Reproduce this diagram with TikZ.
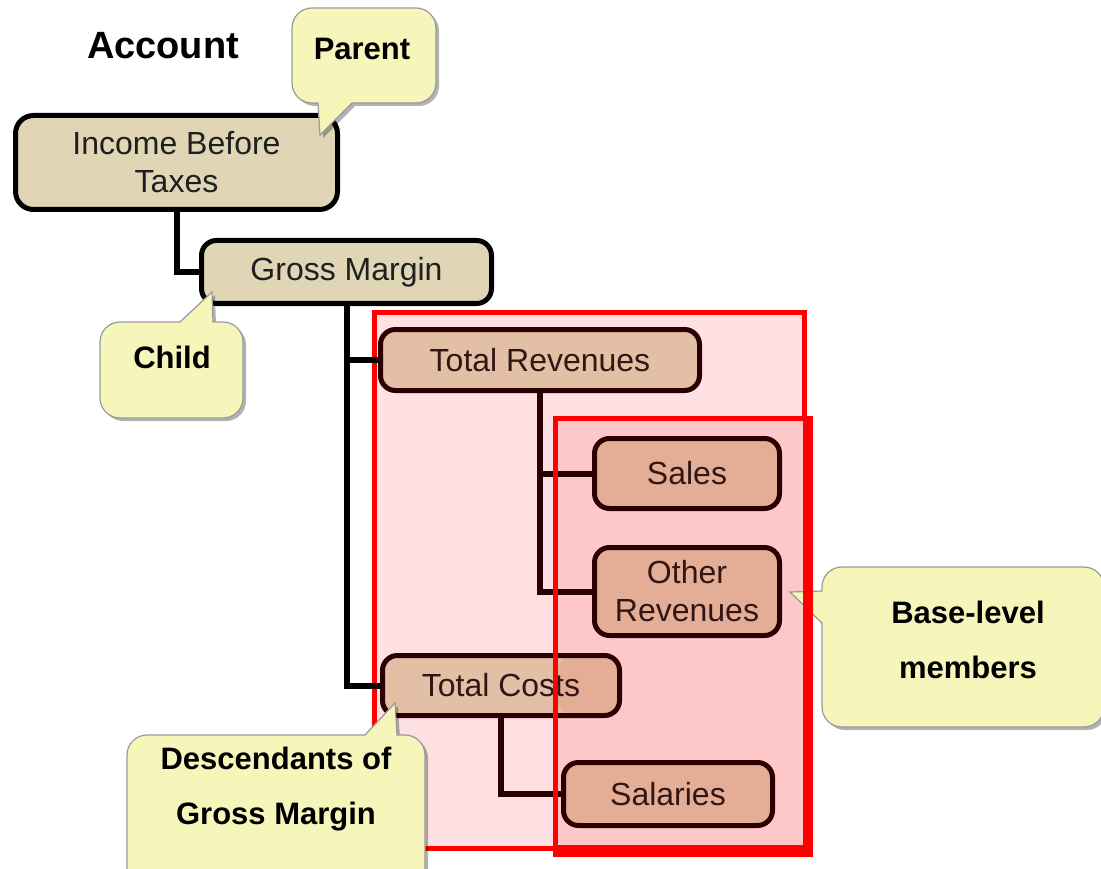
\documentclass[tikz,border=0pt]{standalone}
\usepackage{fontspec}
\setmainfont{Liberation Sans}
\usetikzlibrary{shadows,calc}
\definecolor{cTan}{RGB}{224,214,182}
\definecolor{cRev}{RGB}{227,192,165}
\definecolor{cBase}{RGB}{228,174,150}
\definecolor{cPinkA}{RGB}{255,225,228}
\definecolor{cPinkB}{RGB}{255,200,200}
\definecolor{cYel}{RGB}{247,246,186}
\definecolor{cBrown}{RGB}{43,0,0}
\definecolor{cBrownTxt}{RGB}{50,22,22}
\definecolor{cRed}{RGB}{255,0,0}
\pgfdeclarelayer{back}
\pgfdeclarelayer{bg}
\pgfdeclarelayer{front}
\pgfsetlayers{back,bg,main,front}
\tikzset{
  box/.style={draw, line width=5pt, rounded corners=15pt, inner sep=0pt, align=center,
    font=\fontsize{32}{38}\selectfont},
  tanbox/.style={box, fill=cTan, draw=black, text=black!88},
  revbox/.style={box, fill=cRev, draw=cBrown, text=cBrownTxt},
  basebox/.style={box, fill=cBase, draw=cBrown, text=cBrownTxt},
  conn/.style={line width=6pt, draw=black},
  brconn/.style={line width=6pt, draw=cBrown},
  callout/.style={fill=cYel, draw=black!40, line width=1.2pt,
    drop shadow={shadow xshift=3pt, shadow yshift=-3pt, opacity=0.3, fill=black}},
  callouttext/.style={font=\bfseries\fontsize{31}{55}\selectfont, align=center, text=black},
}
\begin{document}
\begin{tikzpicture}[x=1pt,y=-1pt]
\useasboundingbox (0,0) rectangle (1101,869);

% title
\node[font=\bfseries\fontsize{38}{44}\selectfont] (acc) at (163,46) {Account};

% hierarchy nodes
\node[tanbox, minimum width=322pt, minimum height=94pt, rounded corners=18pt] (inc) at (176.5,162.5) {Income Before\\Taxes};
\node[tanbox, minimum width=290pt, minimum height=63pt] (gm) at (346.5,272) {Gross Margin};
\node[revbox, minimum width=319pt, minimum height=61pt] (tr) at (540,360) {Total Revenues};
\node[basebox, minimum width=185pt, minimum height=70pt] (sales) at (687,473.5) {Sales};
\node[basebox, minimum width=185pt, minimum height=88pt] (oth) at (687,591.5) {Other\\Revenues};
\node[revbox, minimum width=237pt, minimum height=60pt,
  path picture={\fill[cBase] ($(path picture bounding box.north west)+(175.5pt,0pt)$) rectangle (path picture bounding box.south east);}] (tc) at (501,685.5) {Total Costs};
\node[basebox, minimum width=209pt, minimum height=63pt] (sal) at (668,794) {Salaries};

% red regions (background)
\begin{pgfonlayer}{back}
  \fill[cPinkA] (374,312) rectangle (804,848);
  \draw[cRed, line width=5pt] (374,312) rectangle (804,848);
  \fill[cPinkB] (558,421) rectangle (803,845);
\end{pgfonlayer}

% connectors
\begin{pgfonlayer}{bg}
  \draw[conn] (inc.south) |- (gm.west);
  \draw[conn] (gm.south) |- (tr.west);
  \draw[conn] (gm.south) |- (tc.west);
  \draw[brconn] (tr.south) |- (sales.west);
  \draw[brconn] (tr.south) |- (oth.west);
  \draw[brconn] (tc.south) |- (sal.west);
\end{pgfonlayer}

% base-level frame on top
\begin{pgfonlayer}{front}
  \draw[cRed, line width=5pt] (555.5,851) -- (555.5,418.5) -- (808,418.5);
  \fill[cRed] (803,416) rectangle (813,857);
  \fill[cRed] (553,845) rectangle (813,857);
\end{pgfonlayer}

% callouts
\path[callout] (320,135) -- (352,103) [rounded corners=20pt] -- (436,103) -- (436,8) -- (292,8) -- (292,103) [sharp corners] -- (318,103) -- cycle;
\node[callouttext] (par) at (362,49) {Parent};

\path[callout] (212,292) -- (213,322) [rounded corners=20pt] -- (243,322) -- (243,418) -- (100,418) -- (100,322) [sharp corners] -- (180,322) -- cycle;
\node[callouttext] (chi) at (172,357) {Child};

\path[callout] (395,703) -- (397,735) [rounded corners=20pt] -- (425,735) -- (425,890) -- (127,890) -- (127,735) [sharp corners] -- (365,735) -- cycle;
\node[callouttext] (des) at (276,789.5) {Descendants of\\Gross Margin};

\path[callout] (790,592) -- (822,591) [rounded corners=20pt] -- (822,567) -- (1104,567) -- (1104,727) -- (822,727) [sharp corners] -- (822,623) -- cycle;
\node[callouttext] (bas) at (968,639.5) {Base-level\\members};
\end{tikzpicture}
\end{document}
